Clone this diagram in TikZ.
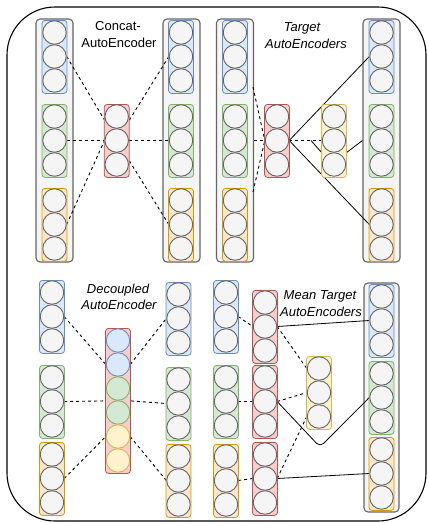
\documentclass[tikz,border=0pt]{standalone}
\usepackage{fontspec}
\setmainfont{Liberation Sans}
\usetikzlibrary{calc}
\pgfdeclarelayer{bg}
\pgfdeclarelayer{lines}
\pgfsetlayers{bg,lines,main}
\definecolor{grayF}{HTML}{F5F5F5}
\definecolor{grayS}{HTML}{666666}
\definecolor{blueF}{HTML}{DAE8FC}
\definecolor{blueS}{HTML}{6C8EBF}
\definecolor{greenF}{HTML}{D5E8D4}
\definecolor{greenS}{HTML}{82B366}
\definecolor{orangeF}{HTML}{FFE6CC}
\definecolor{orangeS}{HTML}{D79B00}
\definecolor{yellowF}{HTML}{FFF2CC}
\definecolor{yellowS}{HTML}{D6B656}
\definecolor{redF}{HTML}{F8CECC}
\definecolor{redS}{HTML}{B85450}
\tikzset{
  circ/.style={circle, draw=grayS, fill=grayF, minimum size=23.5pt, inner sep=0pt, line width=0.9pt},
  blueC/.style={circ, draw=blueS, fill=blueF},
  greenC/.style={circ, draw=greenS, fill=greenF},
  yellowC/.style={circ, draw=yellowS, fill=yellowF},
  grp/.style={rectangle, rounded corners=3pt, line width=0.8pt, inner sep=0pt, minimum width=25pt},
  bluebox/.style={grp, draw=blueS, fill=blueF},
  greenbox/.style={grp, draw=greenS, fill=greenF},
  orangebox/.style={grp, draw=orangeS, fill=orangeF},
  yellowbox/.style={grp, draw=yellowS, fill=yellowF},
  redbox/.style={grp, draw=redS, fill=redF},
  graycol/.style={rectangle, rounded corners=4pt, draw=grayS, fill=grayF, line width=1.1pt, inner sep=0pt},
  dashline/.style={draw=black, dash pattern=on 3pt off 3pt, line width=0.9pt},
  solidline/.style={draw=black, line width=0.8pt},
  lbl/.style={font=\fontsize{13}{15}\selectfont, inner sep=0pt, anchor=base},
  ilbl/.style={lbl, font=\fontsize{13}{15}\selectfont\itshape},
  frame/.style={rectangle, draw=black, line width=1.1pt, rounded corners=48pt, inner sep=0pt},
}
% #1 name, #2 x, #3 top, #4 n, #5 box style, #6 circle style
\newcommand\grp[6]{%
  \node[#5, minimum height={#4*24pt+1pt}, anchor=north] (#1) at (#2,#3) {};
  \foreach \i in {1,...,#4}{\node[#6] (#1\i) at ({#2},{#3+12.5+(\i-1)*24}) {};}
}
\begin{document}
\begin{tikzpicture}[x=1pt,y=-1pt]
\useasboundingbox (0,0) rectangle (428,523);
\begin{pgfonlayer}{bg}
\node[frame, minimum width=419pt, minimum height=514pt] (frm) at (216.5,264) {};
\node[graycol, minimum width=37pt, minimum height=243pt] (cLgray) at (54.5,140.5) {};
\node[graycol, minimum width=37pt, minimum height=243pt] (cRgray) at (181.5,140.5) {};
\node[graycol, minimum width=37pt, minimum height=243pt] (tLgray) at (235,140.5) {};
\node[graycol, minimum width=37pt, minimum height=243pt] (tRgray) at (381.5,140.5) {};
\node[graycol, minimum width=35pt, minimum height=229pt] (mRgray) at (381.5,397.5) {};
\end{pgfonlayer}
% Concat-AutoEncoder
\grp{cLb}{54.5}{20}{3}{bluebox}{circ}
\grp{cLg}{54.5}{104}{3}{greenbox}{circ}
\grp{cLo}{54.5}{188}{3}{orangebox}{circ}
\grp{cM}{116.7}{104}{3}{redbox}{circ}
\grp{cRb}{181}{20}{3}{bluebox}{circ}
\grp{cRg}{181}{104}{3}{greenbox}{circ}
\grp{cRo}{181}{188}{3}{orangebox}{circ}
\node[lbl] (tc1) at (118,30.5) {Concat-};
\node[lbl] (tc2) at (119,47) {AutoEncoder};
% Target AutoEncoders
\grp{tLb}{235}{20}{3}{bluebox}{circ}
\grp{tLg}{235}{104}{3}{greenbox}{circ}
\grp{tLo}{235}{188}{3}{orangebox}{circ}
\grp{tM}{277}{104}{3}{redbox}{circ}
\grp{tY}{334}{104}{3}{yellowbox}{circ}
\grp{tRb}{381.5}{20}{3}{bluebox}{circ}
\grp{tRg}{381.5}{104}{3}{greenbox}{circ}
\grp{tRo}{381.5}{188}{3}{orangebox}{circ}
\node[ilbl] (tt1) at (302,31.5) {Target};
\node[ilbl] (tt2) at (306,48.5) {AutoEncoders};
% Decoupled AutoEncoder
\grp{dLb}{52}{280}{3}{bluebox}{circ}
\grp{dLg}{52}{365}{3}{greenbox}{circ}
\grp{dLo}{52}{442}{3}{orangebox}{circ}
\node[redbox, minimum height=145pt, anchor=north] (dM) at (118,328) {};
\node[blueC] (dM1) at (118,340.5) {};
\node[blueC] (dM2) at (118,364.5) {};
\node[greenC] (dM3) at (118,388.5) {};
\node[greenC] (dM4) at (118,412.5) {};
\node[yellowC] (dM5) at (118,436.5) {};
\node[yellowC] (dM6) at (118,460.5) {};
\grp{dRb}{178.5}{282}{3}{bluebox}{circ}
\grp{dRg}{178.5}{367}{3}{greenbox}{circ}
\grp{dRo}{178.5}{444}{3}{orangebox}{circ}
\node[ilbl] (td1) at (118,293.5) {Decoupled};
\node[ilbl] (td2) at (119,309.5) {AutoEncoder};
% Mean Target AutoEncoders
\grp{mLb}{226}{280}{3}{bluebox}{circ}
\grp{mLg}{226}{365}{3}{greenbox}{circ}
\grp{mLo}{226}{444}{3}{orangebox}{circ}
\grp{mR1}{265}{290}{3}{redbox}{circ}
\grp{mR2}{265}{365}{3}{redbox}{circ}
\grp{mR3}{265}{442}{3}{redbox}{circ}
\grp{mY}{319}{356}{3}{yellowbox}{circ}
\grp{mRb}{381.5}{284}{3}{bluebox}{circ}
\grp{mRg}{381.5}{361}{3}{greenbox}{circ}
\grp{mRo}{381.5}{437}{3}{orangebox}{circ}
\node[ilbl] (tm1) at (320,299.5) {Mean Target};
\node[ilbl] (tm2) at (321,316) {AutoEncoders};
% connectors
\begin{pgfonlayer}{lines}
\draw[dashline] (cLb2.east) -- (cM2.center);
\draw[dashline] (cLg2.east) -- (cM2.west);
\draw[dashline] (cLo2.east) -- (cM2.west);
\draw[dashline] (cM2.center) -- (cRb2.west);
\draw[dashline] (cM2.east) -- (cRg2.west);
\draw[dashline] (cM2.center) -- (cRo2.west);
\coordinate (tA) at (253,87);
\coordinate (tC) at (253,192);
\draw[dashline] (tA) -- (tM2.west);
\draw[dashline] (tLgray.east) -- (tM2.west);
\draw[dashline] (tC) -- (tM2.west);
\draw[solidline] (tM2.east) -- (tRb2.west);
\draw[solidline] (tM2.east) -- (tRo2.west);
\draw[dashline] (tM2.east) -- (tY2.west);
\coordinate (tS) at (311,140.5);
\coordinate (tSa) at (322,153);
\coordinate (tSb) at (346,153);
\draw[solidline] (tS) -- (tSa) -- (tSb) -- (tRgray.west);
\draw[dashline] (dLb2.east) -- (dM2.west);
\draw[dashline] (dLg2.east) -- (dM.west);
\draw[dashline] (dLo2.east) -- (dM5.west);
\draw[dashline] (dM2.east) -- (dRb2.west);
\draw[dashline] (dM.east) -- (dRg2.west);
\draw[dashline] (dM5.east) -- (dRo2.west);
\draw[dashline] (mLb2.east) -- (mR12.west);
\draw[dashline] (mLg2.east) -- (mR22.west);
\draw[dashline] (mLo2.east) -- (mR32.west);
\draw[dashline] (mR12.east) -- (mY1.west);
\draw[dashline] (mR22.east) -- (mY2.west);
\draw[dashline] (mR32.east) -- (mY3.west);
\draw[solidline] (mR12.east) -- (mRb2.west);
\coordinate (mV) at (320,447);
\draw[solidline, rounded corners=5pt] (mR22.east) -- (mV) -- (mRg2.west);
\draw[solidline] (mR32.east) -- (mRo2.west);
\end{pgfonlayer}
\end{tikzpicture}
\end{document}
